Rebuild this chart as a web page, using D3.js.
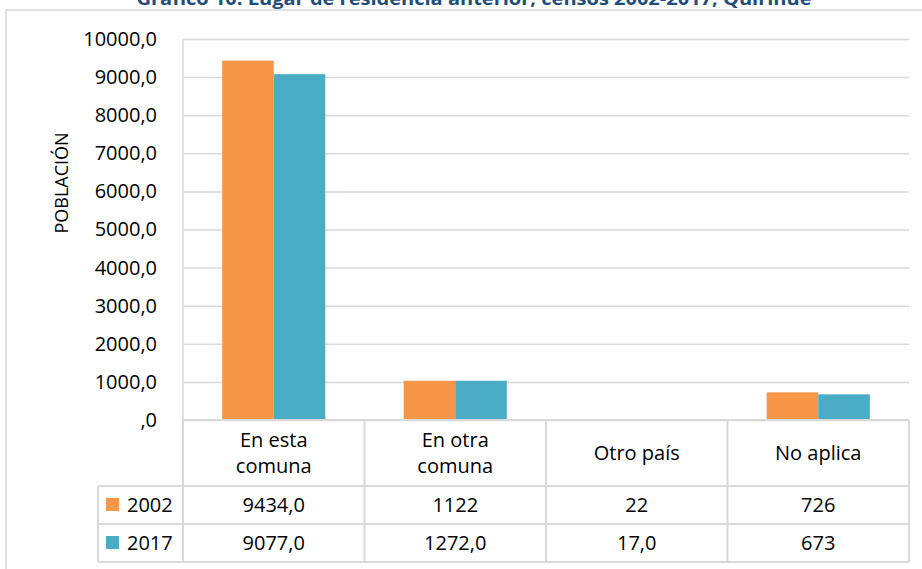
<!DOCTYPE html>
<html>
<head>
<meta charset="utf-8">
<script src="https://cdn.jsdelivr.net/npm/d3@7"></script>
<style>
  body { margin: 0; background: #fff; }
  text { font-family: "Open Sans", sans-serif; fill: #000; }
</style>
</head>
<body>
<svg width="922" height="569"></svg>
<script>
// data
const categories = ['En esta comuna', 'En otra comuna', 'Otro país', 'No aplica']
const categoryLines = [['En esta', 'comuna'], ['En otra', 'comuna'], ['Otro país'], ['No aplica']]
const seriesNames = ['2002', '2017']
// bar heights as drawn (the "En otra comuna" bars stand near 1030 in the picture)
const values2002 = [9434, 1030, 22, 726]
const values2017 = [9077, 1030, 17, 673]
// the texts printed in the data table
const table2002 = ['9434,0', '1122', '22', '726']
const table2017 = ['9077,0', '1272,0', '17,0', '673']
const yTicks = [0, 1000, 2000, 3000, 4000, 5000, 6000, 7000, 8000, 9000, 10000]

const colors = { '2002': '#f79646', '2017': '#4bacc6' }
const gridColor = '#d9d9d9'

const svg = d3.select('svg')
const width = +svg.attr('width')
const height = +svg.attr('height')

const plot = { left: 183, right: 909, top: 39, bottom: 420 }
const table = { legendLeft: 98, headerBottom: 486, rowH: 38 }

// chart frame (left and top edges are the only parts in view)
svg.append('path')
  .attr('d', `M6,${height} V10 H${width}`)
  .attr('fill', 'none')
  .attr('stroke', gridColor)
  .attr('stroke-width', 1.5)

// title, mostly cut off at the top as in the source
svg.append('text')
  .attr('x', 474)
  .attr('y', 5)
  .attr('text-anchor', 'middle')
  .attr('textLength', 675)
  .attr('lengthAdjust', 'spacingAndGlyphs')
  .style('font-size', '18px')
  .style('font-weight', 'bold')
  .style('fill', '#1f4e79')
  .text('Gráfico 10: Lugar de residencia anterior, censos 2002-2017, Quirihue')

const xScale = d3.scaleBand()
  .domain(categories)
  .range([plot.left, plot.right])

const xInner = d3.scaleBand()
  .domain(seriesNames)
  .range([0, xScale.bandwidth()])
  .paddingOuter(0.76)

const yScale = d3.scaleLinear()
  .domain([0, 10000])
  .range([plot.bottom, plot.top])

const fmt = d => d === 0 ? ',0' : d3.format('.1f')(d).replace('.', ',')

// gridlines
const grid = svg.append('g')
  .attr('transform', `translate(${plot.left},0)`)
  .call(d3.axisLeft(yScale).tickValues(yTicks).tickSize(-(plot.right - plot.left)).tickFormat(''))
grid.select('.domain').remove()
grid.selectAll('line').attr('stroke', gridColor).attr('stroke-width', 1.5)

// y axis labels
const yAxis = svg.append('g')
  .attr('transform', `translate(${plot.left},0)`)
  .call(d3.axisLeft(yScale).tickValues(yTicks).tickSize(0).tickPadding(26).tickFormat(fmt))
yAxis.select('.domain').remove()
yAxis.selectAll('text')
  .style('font-family', '"Open Sans", sans-serif')
  .style('font-size', '20px')
  .attr('fill', '#000')

svg.append('line')
  .attr('x1', plot.left).attr('x2', plot.left)
  .attr('y1', plot.top).attr('y2', plot.bottom)
  .attr('stroke', gridColor).attr('stroke-width', 1.5)

svg.append('text')
  .attr('transform', 'translate(68,183) rotate(-90)')
  .attr('text-anchor', 'middle')
  .style('font-size', '18px')
  .text('POBLACIÓN')

// bars
const rows = categories.map((c, i) => ({ cat: c, '2002': values2002[i], '2017': values2017[i] }))

const groups = svg.append('g').selectAll('g').data(rows)
  .enter().append('g')
  .attr('transform', d => `translate(${xScale(d.cat)},0)`)

groups.selectAll('rect')
  .data(d => seriesNames.map(s => ({ s, v: d[s] })))
  .enter().append('rect')
  .attr('x', d => xInner(d.s))
  .attr('width', xInner.bandwidth())
  .attr('y', d => yScale(d.v))
  .attr('height', d => yScale(0) - yScale(d.v))
  .attr('fill', d => colors[d.s])

// data table
const tableBottom = table.headerBottom + 2 * table.rowH
const tb = svg.append('g')
  .attr('fill', 'none')
  .attr('stroke', gridColor)
  .attr('stroke-width', 2)

tb.append('line').attr('x1', plot.left).attr('x2', plot.right).attr('y1', plot.bottom).attr('y2', plot.bottom)
;[0, 1, 2].forEach(r => {
  const y = table.headerBottom + r * table.rowH
  tb.append('line').attr('x1', table.legendLeft).attr('x2', plot.right).attr('y1', y).attr('y2', y)
})
tb.append('line').attr('x1', table.legendLeft).attr('x2', table.legendLeft)
  .attr('y1', table.headerBottom).attr('y2', tableBottom)
categories.forEach(c => {
  tb.append('line').attr('x1', xScale(c)).attr('x2', xScale(c))
    .attr('y1', plot.bottom).attr('y2', tableBottom)
})
tb.append('line').attr('x1', plot.right).attr('x2', plot.right)
  .attr('y1', plot.bottom).attr('y2', tableBottom)

// header labels
const lineH = 26
categories.forEach((c, i) => {
  const lines = categoryLines[i]
  const cx = xScale(c) + xScale.bandwidth() / 2
  const cy = (plot.bottom + table.headerBottom) / 2
  lines.forEach((t, j) => {
    svg.append('text')
      .attr('x', cx)
      .attr('y', cy + (j - (lines.length - 1) / 2) * lineH)
      .attr('dy', '0.35em')
      .attr('text-anchor', 'middle')
      .style('font-size', '20px')
      .text(t)
  })
})

// table rows
const tableRows = [{ name: '2002', cells: table2002 }, { name: '2017', cells: table2017 }]
tableRows.forEach((row, r) => {
  const cy = table.headerBottom + r * table.rowH + table.rowH / 2
  svg.append('rect')
    .attr('x', 106).attr('y', cy - 7)
    .attr('width', 13).attr('height', 13)
    .attr('fill', colors[row.name])
  svg.append('text')
    .attr('x', 127).attr('y', cy)
    .attr('dy', '0.35em')
    .style('font-size', '20px')
    .text(row.name)
  row.cells.forEach((t, i) => {
    svg.append('text')
      .attr('x', xScale(categories[i]) + xScale.bandwidth() / 2)
      .attr('y', cy)
      .attr('dy', '0.35em')
      .attr('text-anchor', 'middle')
      .style('font-size', '20px')
      .text(t)
  })
})
</script>
</body>
</html>
